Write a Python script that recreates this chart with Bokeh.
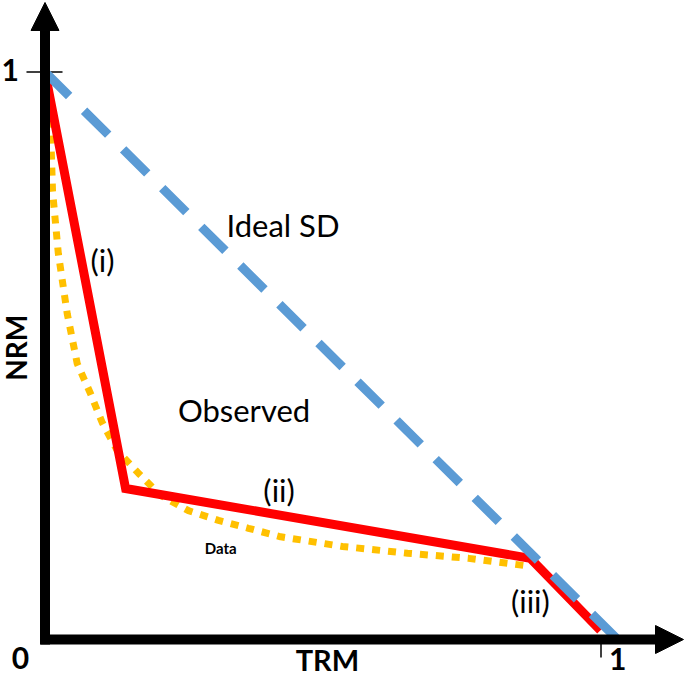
import math
from bokeh.plotting import figure
from bokeh.models import Arrow, NormalHead, Label, Range1d
from bokeh.embed import file_html
from bokeh.resources import INLINE

# ---- data ----
ideal_x = [0.0, 1.03]
ideal_y = [1.0, 0.0]

observed_x = [0.0, 0.145, 0.873, 0.999]
observed_y = [1.0, 0.266, 0.143, 0.016]

data_x = [0.0, 0.010, 0.0135, 0.024, 0.040, 0.058, 0.082, 0.103, 0.130, 0.168,
          0.208, 0.258, 0.312, 0.366, 0.424, 0.535, 0.652, 0.762, 0.873]
data_y = [1.0, 0.902, 0.791, 0.680, 0.574, 0.486, 0.433, 0.382, 0.333, 0.293,
          0.254, 0.227, 0.210, 0.196, 0.181, 0.164, 0.152, 0.143, 0.129]

tick_values = [0, 1]
tick_labels = ["0", "1"]

# ---- figure ----
W, H = 685, 678
p = figure(width=W, height=H,
           x_range=Range1d(-0.080036, 1.151978),
           y_range=Range1d(-0.068722, 1.125992),
           output_backend="svg", toolbar_location=None,
           x_axis_location=None, y_axis_location=None,
           min_border=0, outline_line_color=None)
p.grid.visible = False
p.background_fill_color = "white"
p.border_fill_color = "white"

# axes with arrow heads
p.add_layout(Arrow(end=NormalHead(size=28, fill_color="black", line_color="black"),
                   x_start=-0.0081, y_start=0, x_end=1.1484, y_end=0,
                   line_width=10, line_color="black"))
p.add_layout(Arrow(end=NormalHead(size=28, fill_color="black", line_color="black"),
                   x_start=0, y_start=-0.0088, x_end=0, y_end=1.1225,
                   line_width=10, line_color="black"))

# tick marks at 1
p.segment(x0=[-0.0333], y0=[tick_values[1]], x1=[0.0315], y1=[tick_values[1]],
          line_color="black", line_width=1.5)
p.segment(x0=[tick_values[1]], y0=[0.007], x1=[tick_values[1]], y1=[-0.0317],
          line_color="black", line_width=1.5)

# series
p.line(data_x, data_y, line_color="#FFC000", line_width=7, line_dash="8 8")
p.line(observed_x, observed_y, line_color="#FF0000", line_width=9, line_join="miter")
p.line(ideal_x, ideal_y, line_color="#5B9BD5", line_width=9, line_dash="34 21")

FONT = "Lato"

def lab(x, y, t, size, bold=False, angle=0.0, align="center", baseline="alphabetic"):
    p.add_layout(Label(x=x, y=y, text=t, text_font=FONT, text_font_size=f"{size}px",
                       text_font_style="bold" if bold else "normal",
                       text_align=align, text_baseline=baseline, angle=angle,
                       text_color="black"))

lab(0.428, 0.731, "Ideal SD", 31)
lab(0.1033, 0.669, "(i)", 31)
lab(0.358, 0.4045, "Observed", 31)
lab(0.421, 0.264, "(ii)", 31)
lab(0.873, 0.0687, "(iii)", 31)
lab(0.316, 0.162, "Data", 15, bold=True)
lab(0.508, -0.0345, "TRM", 29, bold=True)
lab(-0.0523, 0.514, "NRM", 28, bold=True, angle=math.pi / 2, baseline="middle")
lab(-0.044, -0.033, tick_labels[0], 30, bold=True)
lab(1.03, -0.0345, tick_labels[1], 30, bold=True)
lab(-0.0625, 1.004, tick_labels[1], 30, bold=True)

open("out.html", "w").write(file_html(p, INLINE))
